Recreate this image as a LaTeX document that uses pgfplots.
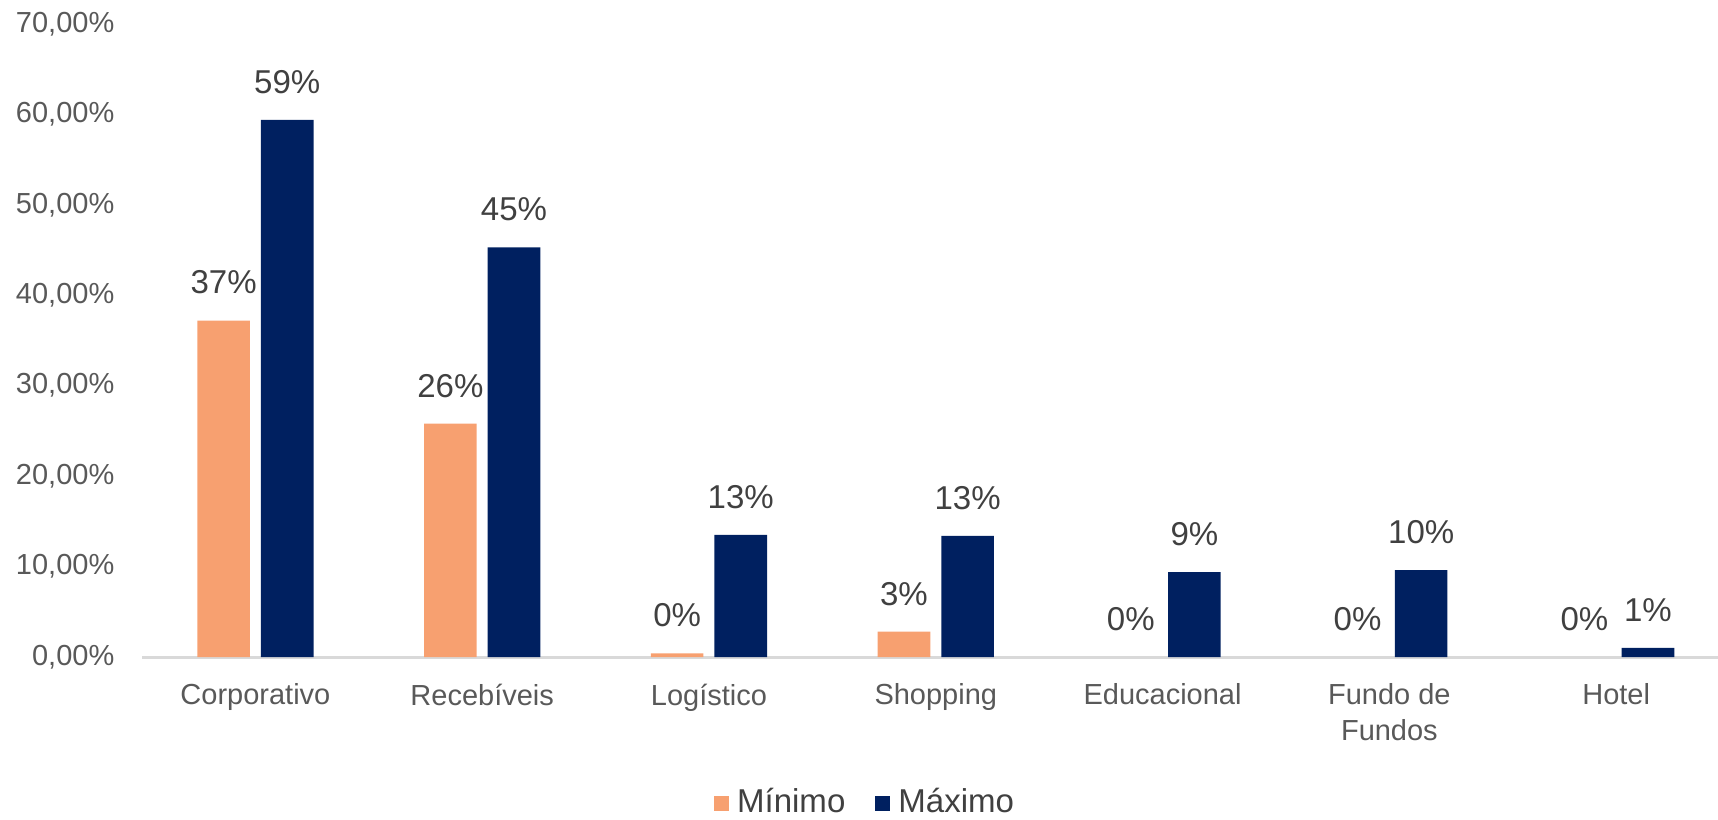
\documentclass[border=0pt]{standalone}
\usepackage{fontspec}
\setmainfont{Liberation Sans}
\usepackage{pgfplots}
\usepackage{pgfplotstable}
\pgfplotsset{compat=1.18}
\definecolor{cmin}{RGB}{247,160,112}
\definecolor{cmax}{RGB}{0,32,96}
\definecolor{ticktext}{RGB}{89,89,89}
\definecolor{labtext}{RGB}{64,64,64}
\definecolor{baseline}{RGB}{217,217,217}

\pgfplotstableread{
x mn mx mnl mxl
0 37.2 59.4 37 59
1 25.8 45.3 26 45
2 0.4 13.5 0 13
3 2.8 13.4 3 13
4 0 9.4 0 9
5 0 9.6 0 10
6 0 1.0 0 1
}\datatable

\begin{document}
\begin{tikzpicture}
\useasboundingbox (-14.2mm,-16.2mm) rectangle (157.6mm,65.7mm);
\begin{axis}[
  scale only axis, width=157.6mm, height=63.3mm,
  at={(0,0)}, anchor=south west,
  xmin=-0.5, xmax=6.449, ymin=0, ymax=70,
  ybar, bar width=5.26mm,
  separate axis lines,
  axis x line*=bottom, axis y line*=left,
  y axis line style={draw=none},
  x axis line style={draw=baseline, line width=0.3mm, -},
  tick style={draw=none},
  xtick={0,...,6},
  xticklabels={Corporativo,Recebíveis,Logístico,Shopping,Educacional,{Fundo de\\Fundos},Hotel},
  xticklabel style={align=center, anchor=north, inner sep=0pt, yshift=-1.1mm, font=\fontsize{8.25}{10.2}\selectfont, text=ticktext},
  ytick={0,10,...,70},
  yticklabels={{0,00\%},{10,00\%},{20,00\%},{30,00\%},{40,00\%},{50,00\%},{60,00\%},{70,00\%}},
  yticklabel style={anchor=east, inner sep=0pt, xshift=-2.7mm, font=\fontsize{8.25}{10.2}\selectfont, text=ticktext},
  point meta=explicit symbolic,
  legend columns=2,
  legend style={at={(0.4607,-0.2307)}, anchor=center, draw=none, fill=none,
    font=\fontsize{9.4}{11}\selectfont, text=labtext,
    /tikz/every even column/.append style={column sep=2.2mm},
    nodes={inner sep=0.8mm}},
  clip=false,
]
% bars (a zero value draws no bar)
\addplot[fill=cmin, draw=none, bar shift=-3.18mm,
  y filter/.expression={y<=0 ? nan : y}, unbounded coords=discard,
  legend image code/.code={\fill[cmin] (0mm,-0.75mm) rectangle (1.5mm,0.75mm);}]
  table[x=x, y=mn, meta=mnl] {\datatable};
\addplot[fill=cmax, draw=none, bar shift=3.18mm,
  nodes near coords={\pgfplotspointmeta\%},
  nodes near coords style={anchor=center, yshift=3.8mm, font=\fontsize{9.4}{11}\selectfont, text=labtext},
  legend image code/.code={\fill[cmax] (0mm,-0.75mm) rectangle (1.5mm,0.75mm);}]
  table[x=x, y=mx, meta=mxl] {\datatable};
% labels of the minimum series
\addplot[draw=none, fill=none, bar shift=-3.18mm, forget plot,
  nodes near coords={\pgfplotspointmeta\%},
  nodes near coords style={anchor=center, yshift=3.8mm, font=\fontsize{9.4}{11}\selectfont, text=labtext}]
  table[x=x, y=mn, meta=mnl] {\datatable};
\legend{Mínimo, Máximo}
\end{axis}
\end{tikzpicture}
\end{document}
